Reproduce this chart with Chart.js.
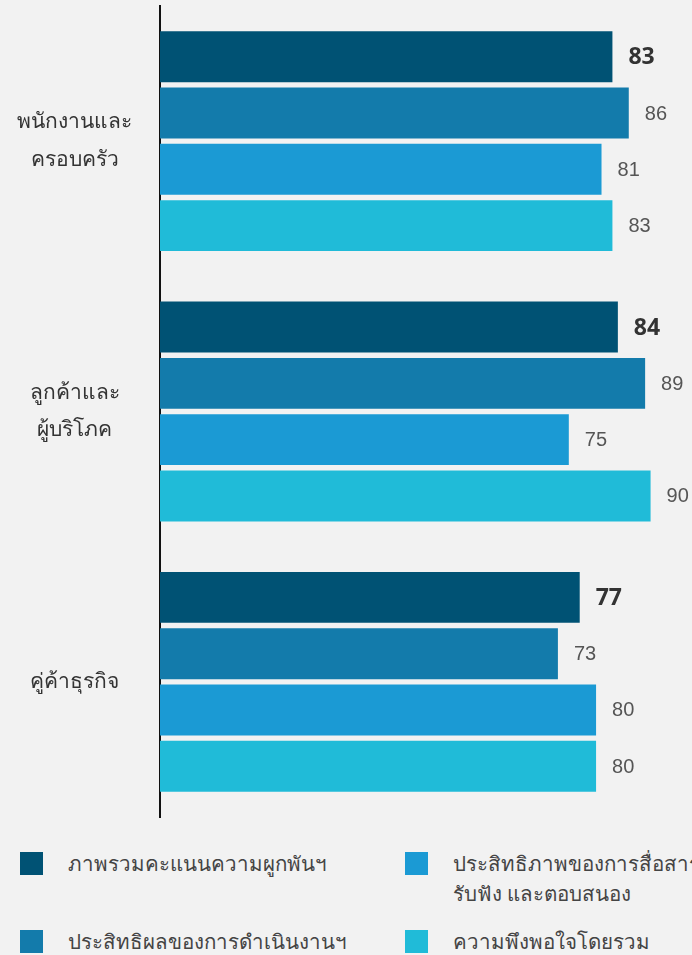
<!DOCTYPE html>
<html>
<head>
<meta charset="utf-8">
<script src="https://cdn.jsdelivr.net/npm/chart.js@4.4.1/dist/chart.umd.min.js"></script>
<style>
    html, body { margin: 0; padding: 0; background: #f2f2f2; overflow: hidden; }
    #wrap { position: relative; width: 692px; height: 955px; overflow: hidden; }
    #chart-box { position: absolute; left: 0; top: 0; width: 692px; height: 824px; }
    .legend-item { position: absolute; display: flex; align-items: flex-start; }
    .legend-box { width: 23px; height: 23px; flex: none; }
    .legend-text { margin-left: 25px; font-family: 'Noto Sans', sans-serif; font-size: 20.5px; line-height: 30px; color: #444; white-space: pre; margin-top: -4px; }
</style>
</head>
<body>
<div id="wrap">
    <div id="chart-box"><canvas id="chart-main"></canvas></div>
    <div id="legend"></div>
</div>
<script>
// กลุ่มผู้มีส่วนได้เสีย
const categories = [
    ['พนักงานและ', 'ครอบครัว'],
    ['ลูกค้าและ', 'ผู้บริโภค'],
    ['คู่ค้าธุรกิจ']
];

const seriesNames = [
    'ภาพรวมคะแนนความผูกพันฯ',
    'ประสิทธิผลของการดำเนินงานฯ',
    'ประสิทธิภาพของการสื่อสาร\nรับฟัง และตอบสนอง',
    'ความพึงพอใจโดยรวม'
];

const engagementScore = [83, 84, 77];
const operationScore = [86, 89, 73];
const communicationScore = [81, 75, 80];
const satisfactionScore = [83, 90, 80];

const seriesColors = ['#005274', '#137bab', '#1b9ad4', '#20bbd8'];

// legend order & position (two columns)
const legendSlots = [
    { left: 20, top: 852 },
    { left: 20, top: 930 },
    { left: 405, top: 852 },
    { left: 405, top: 930 }
];

function renderLegend() {
    const html = seriesNames.map((name, i) => `
        <div class="legend-item" style="left:${legendSlots[i].left}px;top:${legendSlots[i].top}px">
            <div class="legend-box" style="background:${seriesColors[i]}"></div>
            <div class="legend-text">${name}</div>
        </div>
    `).join('');
    document.getElementById('legend').innerHTML = html;
}

const valueLabels = {
    id: 'valueLabels',
    afterDatasetsDraw(chart) {
        const ctx = chart.ctx;
        ctx.save();
        ctx.textBaseline = 'middle';
        ctx.textAlign = 'left';
        chart.data.datasets.forEach((ds, di) => {
            const meta = chart.getDatasetMeta(di);
            meta.data.forEach((bar, i) => {
                if (di === 0) {
                    ctx.font = 'bold 23px "Open Sans", sans-serif';
                    ctx.fillStyle = '#333';
                } else {
                    ctx.font = '20px "Liberation Sans", sans-serif';
                    ctx.fillStyle = '#555';
                }
                ctx.fillText(String(ds.data[i]), bar.x + 16, bar.y + 1);
            });
        });
        ctx.restore();
    }
};

function createChart() {
    const ctx = document.getElementById('chart-main');
    const data = [engagementScore, operationScore, communicationScore, satisfactionScore];
    return new Chart(ctx, {
        type: 'bar',
        data: {
            labels: categories,
            datasets: data.map((d, i) => ({
                label: seriesNames[i],
                data: d,
                backgroundColor: seriesColors[i],
                categoryPercentage: 0.833,
                barPercentage: 0.905
            }))
        },
        options: {
            indexAxis: 'y',
            responsive: true,
            maintainAspectRatio: false,
            animation: false,
            layout: { padding: { top: 6, bottom: 7, left: 0, right: 0 } },
            plugins: { legend: { display: false }, tooltip: { enabled: false } },
            scales: {
                x: { display: false, min: 0, max: 97.6 },
                y: {
                    grid: { display: false, drawTicks: false },
                    border: { display: true, color: '#111', width: 2 },
                    ticks: {
                        crossAlign: 'center',
                        padding: 28,
                        color: '#333',
                        font: { family: "'Noto Sans', sans-serif", size: 21, lineHeight: 1.8 }
                    },
                    afterFit(scale) {
                        scale.width = 160;
                        scale.paddingTop = 0;
                        scale.paddingBottom = 0;
                    }
                }
            }
        },
        plugins: [valueLabels]
    });
}

document.addEventListener('DOMContentLoaded', function() {
    renderLegend();
    createChart();
});
</script>
</body>
</html>
